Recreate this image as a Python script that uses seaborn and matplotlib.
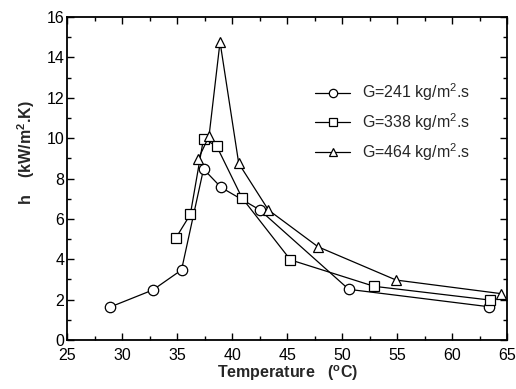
import pandas as pd
import matplotlib
matplotlib.use("Agg")
import matplotlib.pyplot as plt
import seaborn as sns
from matplotlib.ticker import MultipleLocator
from matplotlib.lines import Line2D

# data
t_241 = [28.9, 32.8, 35.4, 37.4, 39.0, 42.5, 50.6, 63.3]
h_241 = [1.63, 2.48, 3.47, 8.47, 7.56, 6.45, 2.51, 1.65]

t_338 = [34.9, 36.2, 37.4, 38.6, 40.9, 45.3, 52.9, 63.4]
h_338 = [5.07, 6.22, 9.98, 9.6, 7.04, 3.97, 2.66, 1.98]

t_464 = [36.9, 37.9, 38.9, 40.6, 43.3, 47.8, 54.9, 64.4]
h_464 = [8.95, 10.1, 14.77, 8.75, 6.44, 4.62, 2.97, 2.3]

labels = ["G=241 kg/m$^2$.s", "G=338 kg/m$^2$.s", "G=464 kg/m$^2$.s"]
markers = ["o", "s", "^"]

sns.set_style("ticks")
plt.rcParams["font.family"] = ["Liberation Sans", "DejaVu Sans"]
plt.rcParams["mathtext.fontset"] = "custom"
plt.rcParams["mathtext.rm"] = "Liberation Sans"
plt.rcParams["mathtext.bf"] = "Liberation Sans:bold"

fig = plt.figure(figsize=(5.16, 3.89), dpi=100)
ax = fig.add_axes([0.130, 0.126, 0.853, 0.830])

series = [(t_241, h_241), (t_338, h_338), (t_464, h_464)]
handles = []
for (t, h), lab, m in zip(series, labels, markers):
    df = pd.DataFrame({"T": t, "h": h})
    sns.lineplot(data=df, x="T", y="h", ax=ax, color="black", lw=0.9,
                 marker=m, markersize=7.5,
                 markerfacecolor="white", markeredgecolor="black",
                 markeredgewidth=0.9, estimator=None, sort=False)
    handles.append(Line2D([], [], color="black", lw=0.9, marker=m, markersize=6,
                          markerfacecolor="white", markeredgecolor="black",
                          markeredgewidth=0.9))

ax.set_xlim(25, 65)
ax.set_ylim(0, 16)
ax.xaxis.set_major_locator(MultipleLocator(5))
ax.xaxis.set_minor_locator(MultipleLocator(2.5))
ax.yaxis.set_major_locator(MultipleLocator(2))
ax.yaxis.set_minor_locator(MultipleLocator(1))
ax.tick_params(which="both", direction="in", top=True, right=True,
               labelsize=11.5, width=1, colors="black")
ax.tick_params(which="major", length=5)
ax.tick_params(which="minor", length=3)
ax.tick_params(axis="x", which="major", pad=6)
ax.tick_params(axis="y", which="major", pad=2)
for s in ax.spines.values():
    s.set_linewidth(1.3)
    s.set_color("black")

ax.set_xlabel("Temperature   ($\\mathbf{^oC}$)", fontsize=11.5, fontweight="bold", labelpad=0)
ax.set_ylabel("h    (kW/m$\\mathbf{^2}$.K)", fontsize=11.5, fontweight="bold")
ax.yaxis.set_label_coords(-0.068, 0.58)

ax.legend(handles, labels, loc="upper left", bbox_to_anchor=(0.564, 0.80),
          frameon=False, fontsize=11.5, handlelength=2.2, handletextpad=0.75,
          labelspacing=0.5, borderpad=0, borderaxespad=0)

fig.savefig("out.png", dpi=100)
